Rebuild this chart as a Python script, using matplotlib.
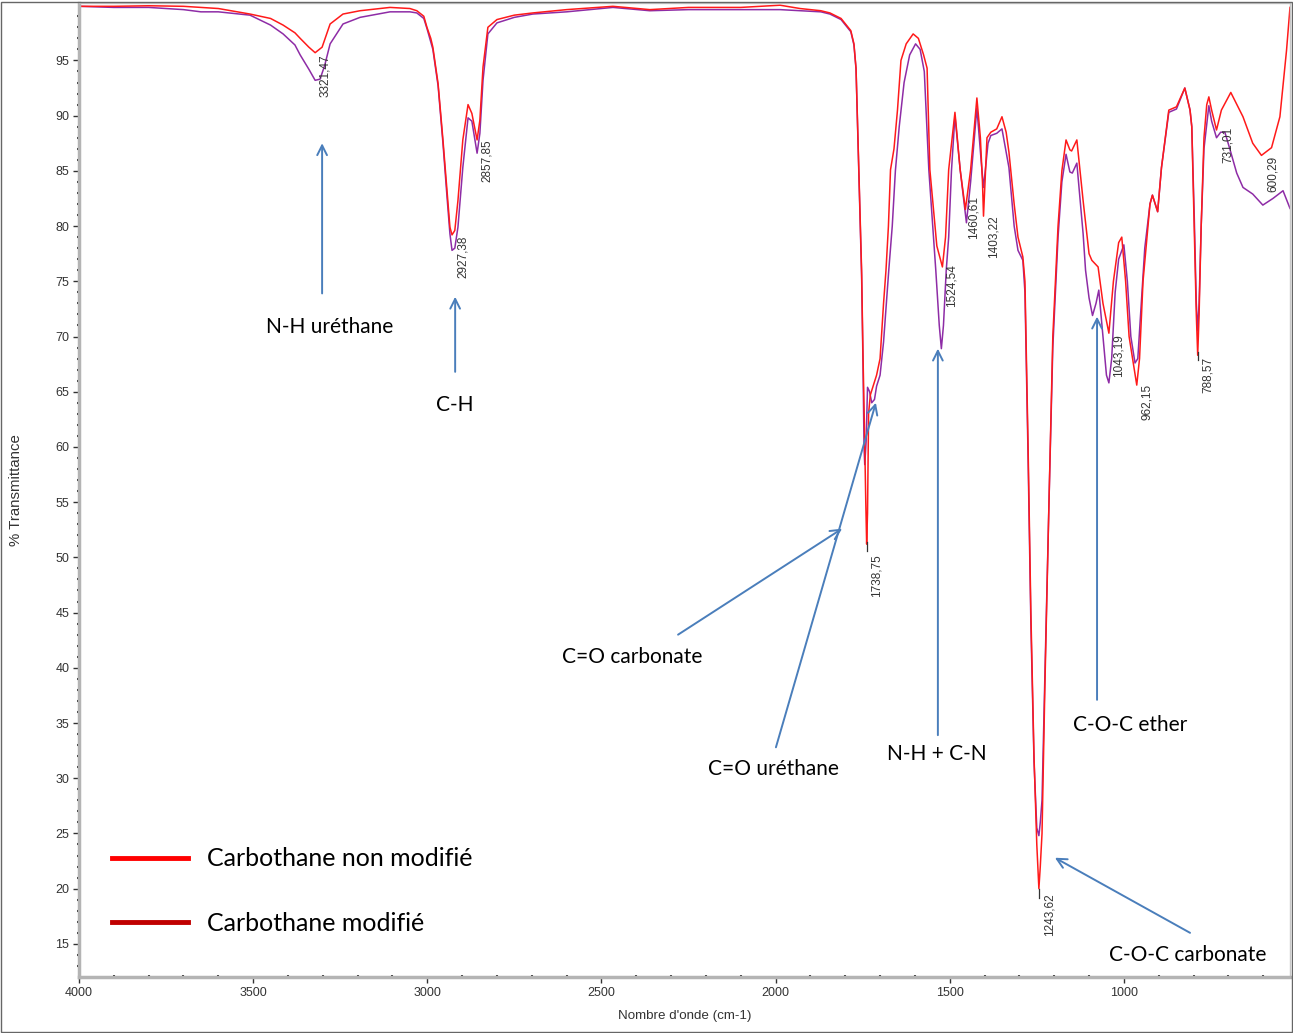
import matplotlib
matplotlib.use("Agg")
import matplotlib.pyplot as plt
import numpy as np
from matplotlib.lines import Line2D
from matplotlib.patches import Rectangle

# spectre FTIR - Carbothane non modifié (rouge)
wn_red = [4000, 3900, 3800, 3700, 3600, 3509, 3450, 3414, 3380, 3365, 3340, 3322, 3302, 3290,
          3279, 3242, 3193, 3107, 3050, 3030, 3010, 3001, 2990, 2984, 2969, 2955, 2943, 2935,
          2929, 2921, 2912, 2898, 2883, 2872, 2857, 2849, 2840, 2826, 2800, 2750, 2697, 2600,
          2467, 2361, 2250, 2100, 1987, 1930, 1870, 1844, 1812, 1784, 1775, 1769, 1761, 1753,
          1749, 1745, 1741, 1738.5, 1736, 1733, 1728, 1720, 1710, 1700, 1690, 1683, 1676, 1670,
          1660, 1650, 1640, 1625, 1605, 1590, 1575, 1565, 1557, 1537, 1521, 1512, 1503, 1485,
          1470, 1455, 1440, 1422, 1412, 1406, 1403, 1400, 1393, 1382, 1365, 1350, 1338, 1330,
          1315, 1304, 1290, 1284, 1275, 1267, 1258, 1250, 1244, 1240, 1235, 1227, 1215, 1204,
          1189, 1178, 1166, 1155, 1150, 1135, 1117, 1100, 1092, 1074, 1060, 1043, 1030, 1015,
          1006, 995, 985, 963, 955, 945, 925, 918, 903, 892, 871, 849, 825, 810, 805, 798, 792,
          788, 784, 778, 770, 762, 756, 748, 734, 720, 693, 658, 630, 605, 576, 552, 533, 523]
t_red = [99.9, 99.9, 99.95, 99.9, 99.7, 99.2, 98.8, 98.2, 97.5, 97.0, 96.2, 95.7, 96.2, 97.3,
         98.3, 99.2, 99.5, 99.8, 99.7, 99.5, 99.0, 98.0, 97.0, 96.2, 92.9, 87.8, 83.0, 79.9,
         79.2, 79.6, 82.3, 87.8, 91.0, 90.2, 87.8, 89.6, 94.4, 98.0, 98.7, 99.1, 99.3, 99.6,
         99.9, 99.6, 99.8, 99.8, 100.0, 99.7, 99.5, 99.3, 98.8, 97.7, 96.5, 94.3, 85.1, 76.0,
         68.3, 62.0, 55.0, 51.2, 54.0, 63.0, 64.7, 65.5, 66.5, 68.0, 73.0, 76.0, 80.0, 85.1,
         87.0, 90.5, 95.0, 96.5, 97.4, 97.0, 95.5, 94.3, 85.1, 78.2, 76.3, 79.0, 85.1, 90.3,
         85.1, 81.5, 85.1, 91.6, 88.0, 84.0, 80.9, 83.0, 88.0, 88.5, 88.8, 89.9, 88.5, 86.7,
         82.0, 79.0, 77.2, 75.0, 60.0, 45.0, 32.0, 24.0, 20.0, 22.0, 25.0, 38.0, 55.0, 70.0,
         80.0, 85.0, 87.8, 86.9, 86.8, 87.8, 82.3, 77.5, 76.9, 76.3, 73.0, 70.3, 75.0, 78.5,
         79.0, 75.0, 70.0, 65.6, 68.0, 75.0, 82.0, 82.8, 81.3, 85.3, 90.5, 90.8, 92.5, 90.5, 89.0,
         80.0, 72.0, 68.3, 72.0, 80.0, 88.0, 91.0, 91.7, 90.5, 88.7, 90.5, 92.1, 89.9, 87.5,
         86.4, 87.1, 89.9, 95.9, 99.8]

# spectre FTIR - Carbothane modifié (violet)
wn_mod = [4000, 3900, 3800, 3700, 3650, 3600, 3509, 3450, 3414, 3380, 3365, 3340, 3322, 3308,
          3295, 3279, 3242, 3193, 3107, 3050, 3030, 3010, 3001, 2984, 2969, 2955, 2943, 2935,
          2929, 2921, 2912, 2898, 2883, 2872, 2857, 2849, 2840, 2826, 2800, 2750, 2697, 2600,
          2467, 2361, 2250, 2100, 1987, 1930, 1870, 1844, 1812, 1784, 1775, 1769, 1761, 1753,
          1749, 1746, 1744, 1740, 1736, 1730, 1724, 1716, 1710, 1700, 1690, 1675, 1665, 1656,
          1645, 1631, 1615, 1598, 1585, 1573, 1560, 1540, 1530, 1524, 1518, 1510, 1503, 1495,
          1485, 1470, 1452, 1440, 1422, 1410, 1403, 1398, 1390, 1382, 1365, 1350, 1330, 1315,
          1304, 1290, 1284, 1275, 1267, 1258, 1250, 1244, 1240, 1235, 1227, 1215, 1204, 1189,
          1178, 1166, 1155, 1148, 1135, 1117, 1110, 1100, 1090, 1080, 1072, 1060, 1050, 1043,
          1035, 1025, 1015, 1000, 990, 980, 968, 960, 950, 940, 925, 918, 903, 892, 871, 849,
          825, 810, 805, 798, 792, 788, 784, 778, 770, 756, 748, 734, 722, 710, 695, 676, 658,
          630, 601, 572, 543, 523]
t_mod = [99.9, 99.8, 99.8, 99.6, 99.4, 99.4, 99.1, 98.2, 97.4, 96.4, 95.5, 94.2, 93.2, 93.3,
         94.5, 96.5, 98.3, 98.9, 99.4, 99.4, 99.3, 98.8, 97.9, 96.0, 92.7, 87.5, 82.5, 79.3,
         77.8, 78.0, 79.9, 85.3, 89.8, 89.5, 86.6, 88.4, 93.2, 97.4, 98.4, 98.9, 99.2, 99.4,
         99.8, 99.5, 99.6, 99.6, 99.6, 99.5, 99.4, 99.2, 98.7, 97.6, 96.4, 94.2, 85.0, 75.5,
         67.5, 60.0, 58.4, 60.5, 65.4, 65.0, 64.0, 64.3, 65.5, 66.5, 69.5, 76.0, 80.0, 85.0,
         89.0, 93.0, 95.5, 96.5, 96.0, 94.0, 85.1, 76.0, 71.0, 68.9, 71.0, 76.0, 79.0, 85.0,
         90.0, 85.1, 80.3, 84.0, 90.7, 86.0, 83.5, 85.0, 87.5, 88.2, 88.4, 88.8, 85.3, 80.0,
         77.8, 76.9, 74.0, 59.0, 44.0, 31.5, 25.5, 24.8, 26.0, 28.0, 39.0, 55.0, 69.0, 79.0,
         84.0, 86.5, 84.9, 84.8, 85.7, 79.3, 76.0, 73.5, 71.9, 73.0, 74.2, 70.0, 66.5, 65.8,
         68.0, 74.0, 77.0, 78.3, 75.0, 70.0, 67.6, 68.0, 73.0, 78.0, 82.0, 82.8, 81.3, 85.3,
         90.3, 90.6, 92.5, 90.5, 89.0, 81.0, 73.0, 70.5, 73.0, 80.0, 87.0, 90.9, 89.5, 88.0,
         88.5, 88.5, 86.9, 84.8, 83.5, 82.9, 81.9, 82.5, 83.2, 81.6]

# pics marqués sous la courbe rouge
peak_labels = ["3321,47", "2927,38", "2857,85", "1738,75", "1524,54", "1460,61", "1403,22",
               "1243,62", "1043,19", "962,15", "788,57", "731,01", "600,29"]
peak_wn = [3321.47, 2927.38, 2857.85, 1738.75, 1524.54, 1460.61, 1403.22,
           1243.62, 1043.19, 962.15, 788.57, 731.01, 600.29]
# pics avec un petit trait entre le minimum et l'étiquette
ticked = ["1738,75", "788,57", "1243,62"]

# attributions des bandes
band_names = ["N-H uréthane", "C-H", "C=O carbonate", "C=O uréthane", "N-H + C-N",
              "C-O-C ether", "C-O-C carbonate"]

legend_labels = ["Carbothane non modifié", "Carbothane modifié"]

fig = plt.figure(figsize=(12.93, 10.33), dpi=100)
ax = fig.add_axes([79 / 1293, 56 / 1033, 1211 / 1293, 974 / 1033])

ax.plot(wn_mod, t_mod, color='#8e2ca6', lw=1.1)
ax.plot(wn_red, t_red, color='#ff1a1a', lw=1.1)

ax.set_xlim(4000, 523)
ax.set_ylim(12.0, 100.2)

ax.set_xticks(np.arange(4000, 999, -500))
ax.set_xticks(np.arange(4000, 523, -100), minor=True)
ax.set_yticks(np.arange(15, 96, 5))
ax.set_yticks(np.arange(13, 100, 1), minor=True)

tick_font = 'Liberation Sans'
for lab in ax.get_xticklabels() + ax.get_yticklabels():
    lab.set_family(tick_font)
ax.tick_params(which='major', direction='out', length=4, width=1, color='#333333',
               labelsize=9, labelcolor='#333333', pad=3)
ax.tick_params(which='minor', direction='inout', length=2.5, width=1.5, color='#333333')

for s in ['left', 'bottom']:
    ax.spines[s].set_color('#b4b4b4')
    ax.spines[s].set_linewidth(2.5)
for s in ['top', 'right']:
    ax.spines[s].set_color('#c8c8c8')
    ax.spines[s].set_linewidth(1)

ax.set_xlabel("Nombre d'onde (cm-1)", family=tick_font, fontsize=9.6, color='#333333', labelpad=8)
ax.set_ylabel("% Transmittance", family=tick_font, fontsize=10.8, color='#333333', labelpad=23)

# étiquettes des pics
xs = np.array(wn_red[::-1], dtype=float)
ys = np.array(t_red[::-1], dtype=float)
for lab, w in zip(peak_labels, peak_wn):
    y = np.interp(w, xs, ys)
    gap = -1
    if lab in ticked:
        ax.plot([w, w], [y - 0.2, y - 1.0], color='#333333', lw=0.9)
        gap = -10 if lab == "1738,75" else -5
    ax.annotate(lab, xy=(w, y), xytext=(3, gap), textcoords='offset points',
                rotation=90, ha='left', va='top', fontsize=8.5, family=tick_font,
                color='#333333')

# flèches et attributions
arrow_col = '#4a7ebb'
arrows = [
    (band_names[0], (3279, 70.9), (3302, 73.9), (3302, 87.5)),
    (band_names[1], (2920, 63.8), (2920, 66.8), (2920, 73.6)),
    (band_names[2], (2412, 41.0), (2280, 43.0), (1809, 52.6)),
    (band_names[3], (2005, 30.8), (1999, 32.8), (1712, 64.0)),
    (band_names[4], (1537, 32.2), (1534, 33.9), (1534, 68.9)),
    (band_names[5], (983, 34.8), (1077, 37.1), (1077, 71.8)),
    (band_names[6], (816, 14.0), (810, 16.0), (1198, 22.8)),
]
for name, tpos, start, end in arrows:
    ax.text(tpos[0], tpos[1], name, ha='center', va='center', fontsize=15, family='Lato')
    ax.annotate('', xy=end, xytext=start,
                arrowprops=dict(arrowstyle='->,head_length=0.7,head_width=0.35',
                                color=arrow_col, lw=1.4, shrinkA=0, shrinkB=0))

handles = [Line2D([], [], color='#ff0000', lw=3.5), Line2D([], [], color='#c00000', lw=3.5)]
ax.legend(handles, legend_labels, loc='upper left', bbox_to_anchor=(0.0273, 0.133),
          frameon=False, prop={'family': 'Lato', 'size': 18}, handlelength=3.05,
          handletextpad=0.76, labelspacing=1.66, borderpad=0, borderaxespad=0)

fig.patches.append(Rectangle((0.001, 0.001), 0.998, 0.997, transform=fig.transFigure,
                             fill=False, edgecolor='#666666', lw=1))

fig.savefig('out.png', dpi=100)
